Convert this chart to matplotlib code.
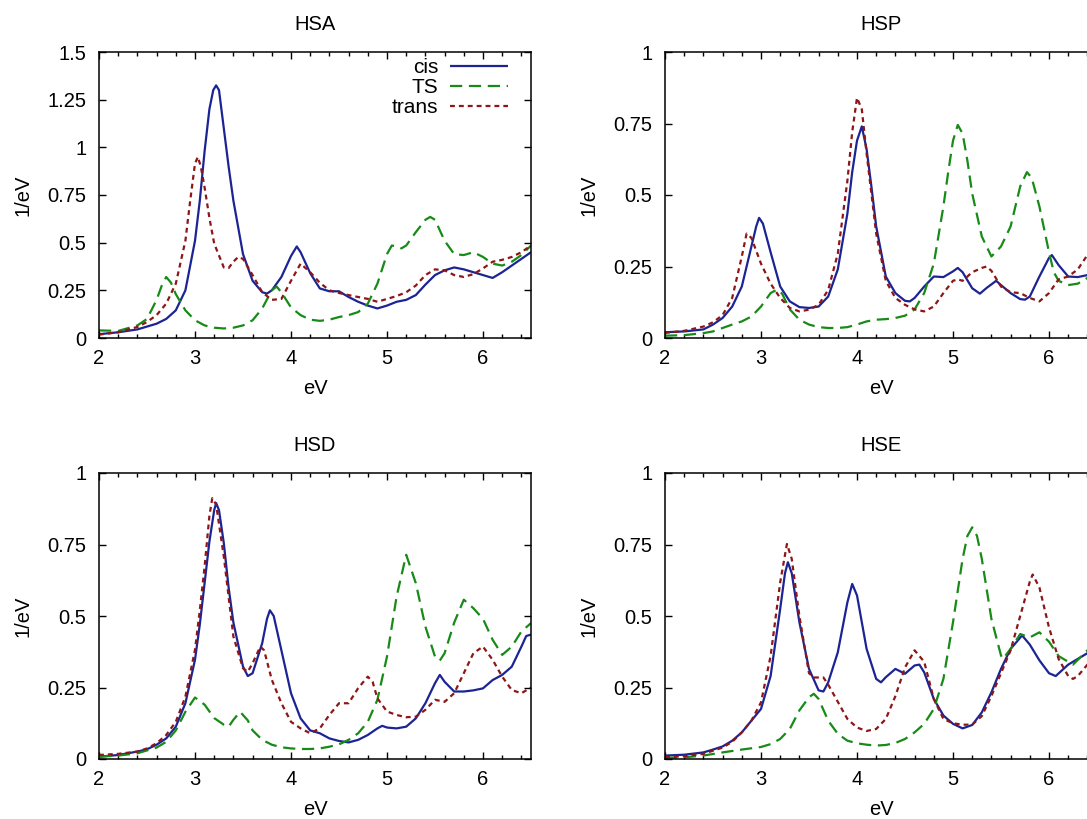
import matplotlib
matplotlib.use("Agg")
import matplotlib.pyplot as plt
from matplotlib.ticker import MultipleLocator, FuncFormatter

plt.rcParams['font.family'] = ['Liberation Sans', 'DejaVu Sans']

# ---------------- data ----------------
panel_titles = ["HSA", "HSP", "HSD", "HSE"]
series_labels = ["cis", "TS", "trans"]
ymax_values = [1.5, 1.0, 1.0, 1.0]
x_ticks = [2, 3, 4, 5, 6]

HSA_cis = [(2.0,0.02),(2.2,0.03),(2.4,0.045),(2.5,0.06),(2.6,0.075),(2.7,0.1),(2.8,0.145),(2.9,0.25),
           (3.0,0.51),(3.05,0.72),(3.1,0.98),(3.15,1.2),(3.19,1.3),(3.22,1.325),(3.25,1.3),(3.3,1.1),
           (3.35,0.9),(3.4,0.72),(3.5,0.44),(3.6,0.3),(3.7,0.24),(3.75,0.233),(3.8,0.25),(3.9,0.32),
           (4.0,0.43),(4.06,0.48),(4.1,0.45),(4.2,0.34),(4.3,0.26),(4.4,0.245),(4.5,0.245),(4.6,0.215),
           (4.7,0.19),(4.8,0.17),(4.9,0.155),(5.0,0.17),(5.1,0.19),(5.2,0.2),(5.3,0.225),(5.4,0.28),
           (5.5,0.33),(5.6,0.355),(5.7,0.37),(5.8,0.36),(5.9,0.345),(6.0,0.33),(6.1,0.315),(6.2,0.345),
           (6.3,0.38),(6.4,0.415),(6.5,0.45)]
HSA_TS = [(2.0,0.04),(2.2,0.037),(2.4,0.066),(2.5,0.1),(2.6,0.2),(2.65,0.27),(2.7,0.32),(2.75,0.29),
          (2.8,0.23),(2.9,0.145),(3.0,0.093),(3.1,0.066),(3.2,0.054),(3.3,0.05),(3.4,0.054),(3.5,0.066),
          (3.6,0.093),(3.7,0.155),(3.8,0.25),(3.85,0.27),(3.9,0.24),(4.0,0.16),(4.1,0.12),(4.2,0.096),
          (4.3,0.09),(4.4,0.096),(4.5,0.11),(4.6,0.12),(4.7,0.136),(4.8,0.18),(4.9,0.285),(5.0,0.44),
          (5.05,0.485),(5.1,0.48),(5.15,0.47),(5.2,0.485),(5.3,0.555),(5.4,0.62),(5.45,0.635),(5.5,0.62),
          (5.6,0.51),(5.7,0.44),(5.8,0.435),(5.9,0.45),(6.0,0.425),(6.1,0.39),(6.2,0.38),(6.3,0.4),
          (6.4,0.435),(6.5,0.485)]
HSA_trans = [(2.0,0.018),(2.2,0.03),(2.4,0.058),(2.5,0.084),(2.6,0.12),(2.7,0.18),(2.8,0.285),(2.9,0.51),
             (2.95,0.72),(3.0,0.915),(3.03,0.95),(3.06,0.9),(3.1,0.79),(3.15,0.63),(3.2,0.495),(3.3,0.37),
             (3.35,0.367),(3.4,0.4),(3.45,0.425),(3.5,0.415),(3.6,0.33),(3.7,0.24),(3.8,0.2),(3.9,0.205),
             (4.0,0.3),(4.1,0.39),(4.2,0.345),(4.3,0.29),(4.4,0.25),(4.5,0.236),(4.6,0.225),(4.7,0.215),
             (4.8,0.205),(4.9,0.19),(5.0,0.205),(5.1,0.22),(5.2,0.24),(5.3,0.275),(5.4,0.33),(5.5,0.36),
             (5.6,0.355),(5.7,0.33),(5.8,0.32),(5.9,0.335),(6.0,0.365),(6.1,0.4),(6.2,0.41),(6.3,0.425),
             (6.4,0.45),(6.5,0.485)]

HSP_cis = [(2.0,0.02),(2.2,0.023),(2.4,0.03),(2.5,0.047),(2.6,0.07),(2.7,0.11),(2.8,0.18),(2.9,0.32),
           (2.95,0.39),(2.98,0.42),(3.02,0.40),(3.1,0.3),(3.2,0.18),(3.3,0.128),(3.4,0.108),(3.5,0.105),
           (3.6,0.11),(3.7,0.145),(3.8,0.24),(3.9,0.435),(3.95,0.58),(4.0,0.69),(4.05,0.74),(4.1,0.66),
           (4.15,0.53),(4.2,0.39),(4.3,0.215),(4.4,0.157),(4.5,0.13),(4.55,0.128),(4.6,0.14),(4.7,0.18),
           (4.8,0.215),(4.9,0.213),(5.0,0.233),(5.05,0.245),(5.1,0.23),(5.2,0.174),(5.28,0.155),(5.35,0.175),
           (5.45,0.2),(5.5,0.185),(5.6,0.157),(5.7,0.136),(5.75,0.134),(5.8,0.145),(5.9,0.215),(6.0,0.28),
           (6.03,0.29),(6.1,0.255),(6.2,0.215),(6.3,0.213),(6.4,0.22),(6.5,0.24)]
HSP_TS = [(2.0,0.008),(2.2,0.01),(2.4,0.017),(2.5,0.023),(2.6,0.035),(2.7,0.047),(2.8,0.058),(2.9,0.075),
          (3.0,0.11),(3.1,0.157),(3.17,0.17),(3.22,0.155),(3.3,0.1),(3.4,0.064),(3.5,0.047),(3.6,0.038),
          (3.7,0.035),(3.8,0.035),(3.9,0.038),(4.0,0.047),(4.1,0.058),(4.2,0.064),(4.3,0.066),(4.4,0.07),
          (4.5,0.078),(4.6,0.1),(4.7,0.157),(4.8,0.26),(4.9,0.46),(4.95,0.58),(5.0,0.69),(5.05,0.745),
          (5.1,0.715),(5.15,0.62),(5.2,0.505),(5.3,0.355),(5.4,0.285),(5.5,0.32),(5.6,0.39),(5.7,0.53),
          (5.77,0.58),(5.82,0.56),(5.9,0.46),(6.0,0.3),(6.05,0.23),(6.1,0.2),(6.2,0.185),(6.3,0.19),
          (6.4,0.21),(6.5,0.24)]
HSP_trans = [(2.0,0.018),(2.2,0.025),(2.4,0.04),(2.5,0.055),(2.6,0.08),(2.7,0.14),(2.8,0.285),(2.85,0.365),
             (2.9,0.35),(3.0,0.26),(3.1,0.19),(3.2,0.14),(3.3,0.105),(3.4,0.093),(3.5,0.099),(3.6,0.116),
             (3.7,0.168),(3.8,0.295),(3.9,0.55),(3.95,0.72),(4.0,0.84),(4.05,0.8),(4.1,0.645),(4.2,0.365),
             (4.3,0.2),(4.4,0.14),(4.5,0.116),(4.6,0.1),(4.7,0.093),(4.8,0.11),(4.9,0.157),(5.0,0.2),
             (5.05,0.205),(5.1,0.2),(5.2,0.23),(5.3,0.245),(5.35,0.25),(5.4,0.235),(5.5,0.18),(5.6,0.16),
             (5.7,0.157),(5.8,0.14),(5.9,0.128),(6.0,0.157),(6.1,0.205),(6.2,0.215),(6.3,0.24),(6.4,0.29),
             (6.5,0.33)]

HSD_cis = [(2.0,0.008),(2.2,0.014),(2.4,0.026),(2.5,0.034),(2.6,0.05),(2.7,0.072),(2.8,0.113),(2.9,0.195),
           (3.0,0.347),(3.05,0.47),(3.1,0.615),(3.15,0.76),(3.2,0.87),(3.22,0.895),(3.25,0.87),(3.3,0.755),
           (3.35,0.6),(3.4,0.477),(3.5,0.323),(3.55,0.29),(3.6,0.3),(3.7,0.405),(3.75,0.49),(3.78,0.52),
           (3.82,0.5),(3.9,0.38),(4.0,0.23),(4.1,0.142),(4.2,0.1),(4.3,0.09),(4.4,0.072),(4.5,0.063),
           (4.6,0.058),(4.7,0.067),(4.8,0.084),(4.9,0.107),(4.95,0.116),(5.0,0.11),(5.1,0.107),(5.2,0.113),
           (5.3,0.142),(5.4,0.195),(5.5,0.265),(5.55,0.294),(5.6,0.27),(5.7,0.236),(5.8,0.236),(5.9,0.24),
           (6.0,0.247),(6.1,0.276),(6.2,0.294),(6.3,0.323),(6.4,0.393),(6.45,0.43),(6.5,0.435)]
HSD_TS = [(2.0,0.008),(2.2,0.012),(2.4,0.02),(2.6,0.04),(2.7,0.06),(2.8,0.1),(2.9,0.165),(3.0,0.215),
          (3.1,0.19),(3.2,0.143),(3.3,0.12),(3.35,0.113),(3.4,0.137),(3.47,0.165),(3.55,0.135),(3.6,0.1),
          (3.7,0.067),(3.8,0.05),(3.9,0.041),(4.0,0.037),(4.1,0.035),(4.2,0.035),(4.3,0.037),(4.4,0.043),
          (4.5,0.051),(4.6,0.067),(4.7,0.09),(4.8,0.13),(4.9,0.207),(5.0,0.358),(5.1,0.568),(5.2,0.714),
          (5.3,0.615),(5.4,0.463),(5.5,0.358),(5.55,0.344),(5.6,0.37),(5.7,0.477),(5.8,0.557),(5.9,0.527),
          (6.0,0.49),(6.1,0.417),(6.2,0.364),(6.3,0.393),(6.4,0.446),(6.5,0.475)]
HSD_trans = [(2.0,0.014),(2.2,0.018),(2.4,0.026),(2.5,0.037),(2.6,0.055),(2.7,0.084),(2.8,0.13),(2.9,0.218),
             (3.0,0.382),(3.05,0.52),(3.1,0.673),(3.15,0.85),(3.18,0.912),(3.22,0.89),(3.3,0.708),(3.4,0.428),
             (3.5,0.317),(3.55,0.305),(3.6,0.335),(3.68,0.393),(3.72,0.38),(3.8,0.277),(3.9,0.195),(4.0,0.13),
             (4.1,0.107),(4.2,0.09),(4.3,0.107),(4.4,0.154),(4.5,0.195),(4.6,0.195),(4.7,0.248),(4.8,0.288),
             (4.85,0.27),(4.9,0.212),(5.0,0.166),(5.1,0.154),(5.2,0.146),(5.3,0.148),(5.4,0.172),(5.5,0.207),
             (5.6,0.2),(5.7,0.23),(5.8,0.3),(5.9,0.37),(6.0,0.393),(6.1,0.347),(6.2,0.288),(6.3,0.241),
             (6.4,0.23),(6.5,0.25)]

HSE_cis = [(2.0,0.012),(2.2,0.015),(2.4,0.023),(2.5,0.033),(2.6,0.044),(2.7,0.064),(2.8,0.093),(2.9,0.134),
           (3.0,0.175),(3.1,0.29),(3.2,0.525),(3.25,0.65),(3.28,0.688),(3.32,0.65),(3.4,0.478),(3.5,0.315),
           (3.6,0.24),(3.65,0.236),(3.7,0.268),(3.8,0.373),(3.9,0.548),(3.95,0.612),(4.0,0.572),(4.1,0.385),
           (4.2,0.28),(4.25,0.268),(4.3,0.286),(4.4,0.315),(4.5,0.298),(4.6,0.327),(4.65,0.33),(4.7,0.303),
           (4.8,0.21),(4.9,0.152),(5.0,0.123),(5.1,0.107),(5.2,0.119),(5.3,0.163),(5.4,0.233),(5.5,0.315),
           (5.6,0.385),(5.72,0.432),(5.8,0.4),(5.9,0.345),(6.0,0.3),(6.07,0.29),(6.2,0.33),(6.3,0.35),
           (6.4,0.37),(6.5,0.39)]
HSE_TS = [(2.0,0.004),(2.2,0.006),(2.4,0.012),(2.6,0.023),(2.8,0.033),(3.0,0.042),(3.1,0.052),(3.2,0.07),
          (3.3,0.105),(3.4,0.17),(3.5,0.216),(3.55,0.228),(3.6,0.21),(3.7,0.134),(3.8,0.088),(3.9,0.064),
          (4.0,0.055),(4.1,0.05),(4.2,0.047),(4.3,0.049),(4.4,0.056),(4.5,0.07),(4.6,0.093),(4.7,0.123),
          (4.8,0.175),(4.9,0.28),(5.0,0.478),(5.1,0.7),(5.15,0.78),(5.2,0.81),(5.25,0.78),(5.3,0.7),
          (5.4,0.49),(5.5,0.362),(5.52,0.35),(5.6,0.385),(5.7,0.437),(5.8,0.425),(5.9,0.443),(6.0,0.41),
          (6.1,0.36),(6.25,0.33),(6.4,0.38),(6.5,0.41)]
HSE_trans = [(2.0,0.006),(2.2,0.01),(2.4,0.018),(2.6,0.04),(2.7,0.06),(2.8,0.093),(2.9,0.134),(3.0,0.198),
             (3.1,0.36),(3.2,0.618),(3.27,0.752),(3.32,0.7),(3.4,0.5),(3.5,0.3),(3.55,0.285),(3.65,0.285),
             (3.7,0.26),(3.8,0.2),(3.9,0.14),(4.0,0.11),(4.1,0.098),(4.2,0.105),(4.3,0.14),(4.4,0.22),
             (4.5,0.32),(4.6,0.38),(4.7,0.34),(4.8,0.21),(4.9,0.14),(5.0,0.125),(5.1,0.12),(5.2,0.12),
             (5.3,0.15),(5.4,0.22),(5.5,0.3),(5.6,0.38),(5.7,0.5),(5.8,0.62),(5.83,0.645),(5.9,0.6),
             (6.0,0.46),(6.1,0.35),(6.2,0.29),(6.25,0.28),(6.3,0.29),(6.4,0.33),(6.5,0.36)]

panel_data = [
    [HSA_cis, HSA_TS, HSA_trans],
    [HSP_cis, HSP_TS, HSP_trans],
    [HSD_cis, HSD_TS, HSD_trans],
    [HSE_cis, HSE_TS, HSE_trans],
]

# ---------------- styling ----------------
colors = ['#1c2494', '#178a17', '#8e1616']
dash_styles = [None, (5.5, 3.0), (2.2, 1.8)]
LW = 1.6
FS = 14.5

W, H = 1087, 819
fig = plt.figure(figsize=(W / 100, H / 100), dpi=100)

# axes boxes in pixels: (left, top, width, height)
boxes = [(99, 52, 432, 286), (665, 52, 432, 286), (99, 473, 432, 286), (665, 473, 432, 286)]

fmt = FuncFormatter(lambda v, p: ('%g' % v))

for i, (title, box) in enumerate(zip(panel_titles, boxes)):
    l, t, w, h = box
    ax = fig.add_axes([l / W, (H - t - h) / H, w / W, h / H])
    for s, (data, lab, col, ds) in enumerate(zip(panel_data[i], series_labels, colors, dash_styles)):
        xs = [p[0] for p in data]
        ys = [p[1] for p in data]
        line, = ax.plot(xs, ys, color=col, lw=LW, label=lab, solid_capstyle='butt',
                        dash_capstyle='butt', solid_joinstyle='round')
        if ds is not None:
            line.set_dashes(ds)
    ax.set_xlim(2, 6.5)
    ax.set_ylim(0, ymax_values[i])
    ax.set_xticks(x_ticks)
    ax.xaxis.set_minor_locator(MultipleLocator(0.2))
    ax.yaxis.set_major_locator(MultipleLocator(0.25))
    ax.xaxis.set_major_formatter(fmt)
    ax.yaxis.set_major_formatter(fmt)
    ax.tick_params(which='both', direction='in', top=True, right=True, labelsize=FS, width=1.0)
    ax.tick_params(which='major', length=5)
    ax.tick_params(which='minor', length=3)
    ax.tick_params(axis='x', pad=8)
    ax.tick_params(axis='y', pad=9)
    for sp in ax.spines.values():
        sp.set_linewidth(1.1)
    ax.set_title(title, fontsize=FS, pad=16)
    ax.set_xlabel('eV', fontsize=FS, labelpad=8)
    ax.set_ylabel('1/eV', fontsize=FS, labelpad=11)
    if i == 0:
        ax.legend(loc='upper right', bbox_to_anchor=(1 - 23 / 432, 1 - 6 / 286), frameon=False,
                  markerfirst=False, fontsize=15, handlelength=2.8, handletextpad=0.55,
                  labelspacing=0.05, borderpad=0, borderaxespad=0)

fig.savefig('out.png', dpi=100)
